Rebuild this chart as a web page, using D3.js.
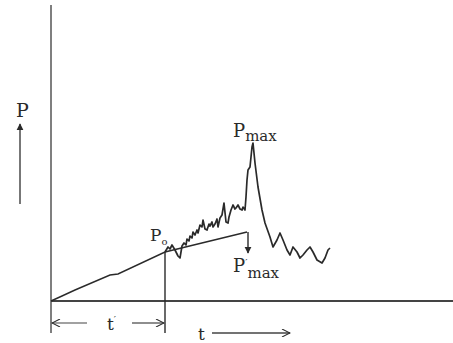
<!DOCTYPE html>
<html><head><meta charset="utf-8">
<script src="https://cdn.jsdelivr.net/npm/d3@7/dist/d3.min.js"></script>
<style>html,body{margin:0;padding:0;background:#fff;}svg{display:block;}
svg text{font-family:'DejaVu Serif','Liberation Serif',serif;}</style>
</head><body>
<svg id="c" width="453" height="343"></svg>
<script>
// Straight (extrapolated) loading line: time and load
const lineT = [0, 11, 24, 59, 67, 114, 196];
const lineP = [0, 5, 11, 26, 27, 49, 69];
// Noisy measured curve after P°
const noiseT = [114,117,119,121,124,127,129,131,133,135,136,138,139,141,142,144,146,147,149,151,152,154,156,158,159,161,162,164,166,167,169,171,173,175,177,178,180,182,184,185,187,189,191,192,194,195,196,197,199,201,202,204,207,211,214,219,222,226,229,232,236,239,242,246,249,252,256,259,262,266,271,274,277,279];
const noiseP = [49,54,52,56,51,45,43,55,58,56,62,60,65,63,69,66,71,68,76,74,81,72,71,77,75,79,74,77,82,74,83,86,98,79,78,84,91,96,92,93,96,92,91,94,91,104,121,131,134,154,158,138,114,91,78,64,54,61,68,61,51,46,54,49,43,46,51,54,49,41,38,43,51,53];
// Key marks
const tPrime = 114;   // t'
const pZero = 49;     // P°
const tMax = 202, pMax = 158;
const tPMaxPrime = 197, pMaxPrimeTop = 69, pMaxPrimeBottom = 49;

const svg = d3.select('#c');
const x = d3.scaleLinear().domain([0, 402]).range([51, 453]);
const y = d3.scaleLinear().domain([0, 296]).range([301, 5]);
const ink = '#2a2a2a';

const defs = svg.append('defs');
defs.append('marker').attr('id','tri').attr('viewBox','0 0 10 10').attr('refX',9).attr('refY',5)
  .attr('markerWidth',7).attr('markerHeight',9).attr('markerUnits','userSpaceOnUse').attr('orient','auto')
  .append('path').attr('d','M0,0 L10,5 L0,10 Z').attr('fill',ink);
defs.append('marker').attr('id','open').attr('viewBox','0 0 10 10').attr('refX',10).attr('refY',5)
  .attr('markerWidth',10).attr('markerHeight',8).attr('markerUnits','userSpaceOnUse').attr('orient','auto')
  .append('path').attr('d','M0,0 L10,5 L0,10').attr('fill','none').attr('stroke',ink).attr('stroke-width',1.3);

// axes
svg.append('line').attr('x1',x(0)).attr('x2',x(0)).attr('y1',y(296)).attr('y2',y(-32))
  .attr('stroke','#555').attr('stroke-width',1.5);
svg.append('line').attr('x1',x(0)).attr('x2',x(402)).attr('y1',y(0)).attr('y2',y(0))
  .attr('stroke','#444').attr('stroke-width',2);

// P axis label and arrow
svg.append('line').attr('x1',20).attr('x2',20).attr('y1',204).attr('y2',124)
  .attr('stroke','#555').attr('stroke-width',1.6).attr('marker-end','url(#tri)');
svg.append('text').attr('x',16).attr('y',117).attr('font-size',19).attr('fill',ink).text('P');

// straight line
const gen = d3.line().x(d=>x(d[0])).y(d=>y(d[1]));
svg.append('path').datum(lineT.map((t,i)=>[t,lineP[i]])).attr('d',gen)
  .attr('fill','none').attr('stroke',ink).attr('stroke-width',1.4);
// noisy
svg.append('path').datum(noiseT.map((t,i)=>[t,noiseP[i]])).attr('d',gen)
  .attr('fill','none').attr('stroke',ink).attr('stroke-width',1.7).attr('stroke-linejoin','round');

// P'max arrow
svg.append('line').attr('x1',x(tPMaxPrime)).attr('x2',x(tPMaxPrime)).attr('y1',y(pMaxPrimeTop)).attr('y2',y(pMaxPrimeBottom)+1)
  .attr('stroke',ink).attr('stroke-width',1.4).attr('marker-end','url(#tri)');

// t' vertical
svg.append('line').attr('x1',x(tPrime)).attr('x2',x(tPrime)).attr('y1',y(pZero)).attr('y2',y(-32))
  .attr('stroke',ink).attr('stroke-width',1.4);
// t' arrows
svg.append('line').attr('x1',x(36)).attr('x2',x(1)).attr('y1',323).attr('y2',323)
  .attr('stroke','#444').attr('stroke-width',1.2).attr('marker-end','url(#open)');
svg.append('line').attr('x1',x(81)).attr('x2',x(tPrime)-1).attr('y1',323).attr('y2',323)
  .attr('stroke','#444').attr('stroke-width',1.2).attr('marker-end','url(#open)');
const tp = svg.append('text').attr('x',x(56)).attr('y',330).attr('font-size',17).attr('fill',ink);
tp.append('tspan').text('t');
tp.append('tspan').attr('dy',-7).attr('font-size',10).text('′');

// t label and arrow
svg.append('text').attr('x',198).attr('y',340).attr('font-size',17).attr('fill',ink).text('t');
svg.append('line').attr('x1',212).attr('x2',290).attr('y1',333).attr('y2',333)
  .attr('stroke','#444').attr('stroke-width',1.4).attr('marker-end','url(#open)');

// P max label
const pm = svg.append('text').attr('x',x(tMax)-20).attr('y',y(pMax)-6).attr('font-size',18).attr('fill',ink);
pm.append('tspan').text('P');
pm.append('tspan').attr('dy',4).attr('font-size',15).text('max');

// P° label
const p0 = svg.append('text').attr('x',x(tPrime)-15).attr('y',y(pZero)-11).attr('font-size',17).attr('fill',ink);
p0.append('tspan').text('P');
p0.append('tspan').attr('dy',4).attr('font-size',10).text('o');

// P'max label
const pmp = svg.append('text').attr('x',x(tPMaxPrime)-15).attr('y',y(pMaxPrimeBottom)+20).attr('font-size',18).attr('fill',ink);
pmp.append('tspan').text('P');
pmp.append('tspan').attr('dy',-6).attr('font-size',10).text('′');
pmp.append('tspan').attr('dy',12).attr('font-size',15).text('max');
</script>
</body></html>
